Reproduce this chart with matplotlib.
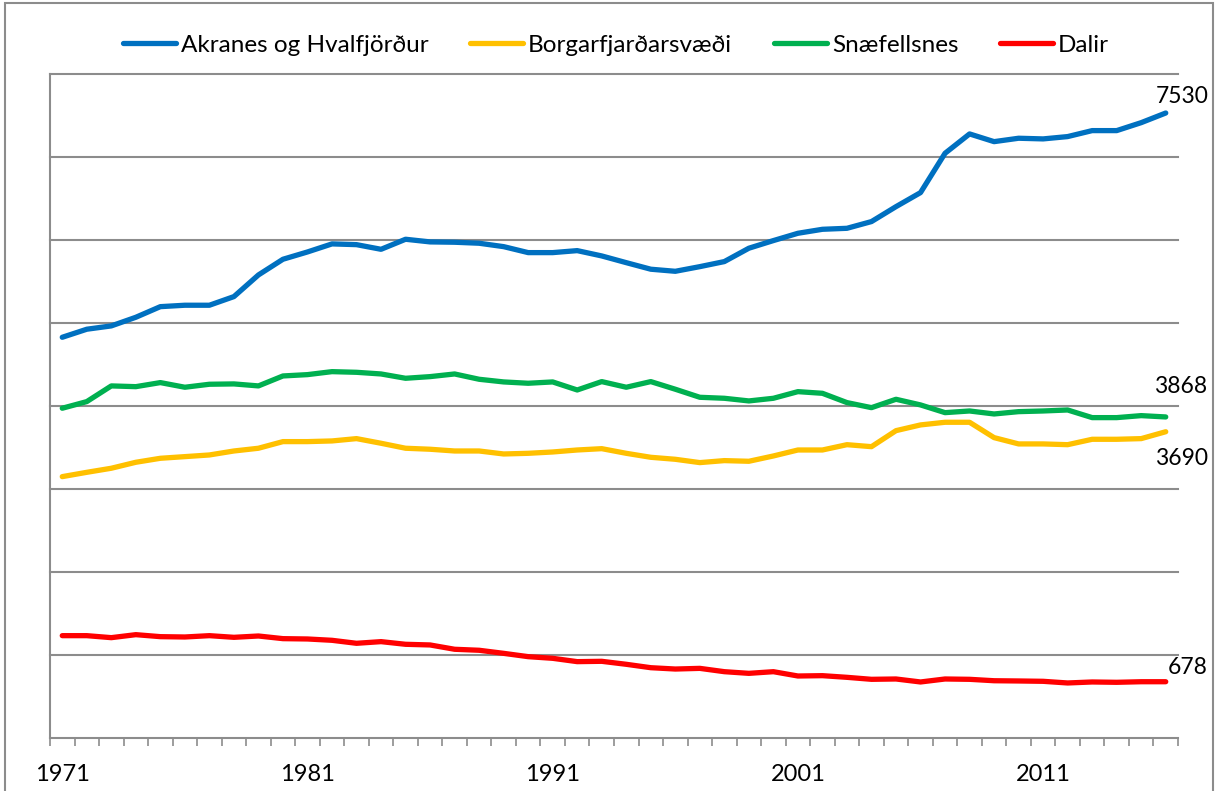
import numpy as np
import matplotlib
matplotlib.use('Agg')
import matplotlib.pyplot as plt
from matplotlib.patches import Rectangle

plt.rcParams['font.family'] = ['Lato', 'DejaVu Sans']

years = np.arange(1971, 2017)
akranes = [4828, 4925, 4965, 5069, 5197, 5214, 5214, 5318, 5579, 5768,
           5856, 5953, 5944, 5888, 6009, 5977, 5973, 5961, 5920, 5848,
           5848, 5872, 5808, 5727, 5648, 5623, 5679, 5740, 5901, 5993,
           6081, 6129, 6141, 6222, 6402, 6571, 7045, 7278, 7185, 7226,
           7218, 7246, 7318, 7318, 7414, 7530]
borgarfj = [3149, 3201, 3250, 3322, 3370, 3390, 3410, 3458, 3491, 3571,
            3571, 3579, 3607, 3551, 3491, 3479, 3458, 3458, 3422, 3430,
            3446, 3470, 3486, 3430, 3382, 3358, 3318, 3342, 3334, 3398,
            3470, 3470, 3534, 3510, 3703, 3772, 3804, 3804, 3619, 3543,
            3543, 3534, 3599, 3599, 3607, 3690]
snaefellsnes = [3973, 4053, 4242, 4233, 4282, 4226, 4262, 4266, 4242, 4362,
                4378, 4414, 4406, 4386, 4334, 4354, 4386, 4322, 4290, 4274,
                4290, 4193, 4294, 4226, 4294, 4202, 4105, 4093, 4061, 4093,
                4173, 4153, 4041, 3980, 4081, 4013, 3920, 3940, 3904, 3932,
                3940, 3952, 3860, 3860, 3884, 3868]
dalir = [1233, 1233, 1209, 1245, 1221, 1217, 1233, 1213, 1229, 1197,
         1193, 1177, 1141, 1161, 1129, 1121, 1069, 1057, 1020, 980,
         960, 920, 924, 888, 847, 831, 839, 799, 779, 799,
         747, 751, 731, 707, 711, 675, 711, 707, 690, 687,
         683, 663, 675, 671, 678, 678]

names = ['Akranes og Hvalfjörður', 'Borgarfjarðarsvæði', 'Snæfellsnes', 'Dalir']
colors = ['#0070C0', '#FFC000', '#00B050', '#FF0000']
series = [akranes, borgarfj, snaefellsnes, dalir]
# offsets (points) for the end value labels
offsets = [(11.5, 12), (11, -19), (11, 22), (16, 10)]

fig = plt.figure(figsize=(12.17, 7.91), dpi=100)
ax = fig.add_axes([50 / 1217, 1 - 738 / 791, 1128 / 1217, 664 / 791])

x = np.arange(len(years))
for s, name, c in zip(series, names, colors):
    ax.plot(x, s, color=c, lw=3.8, label=name, solid_capstyle='round',
            solid_joinstyle='round', zorder=3)

for s, c, off in zip(series, colors, offsets):
    ax.annotate(str(s[-1]), (x[-1], s[-1]), xytext=off, textcoords='offset points',
                ha='center', va='center', fontsize=16.5, color='black')

ax.set_xlim(-0.5, len(years) - 0.5)
ax.set_ylim(0, 8000)
for v in range(1000, 8001, 1000):
    ax.axhline(v, color='#8c8c8c', lw=1.5, zorder=1, clip_on=False)

ax.set_xticks(np.arange(-0.5, len(years), 1))
ax.set_xticklabels([])
ax.tick_params(axis='x', which='major', length=6, width=1.2, color='#8c8c8c', direction='out')
lab_pos = x[::10]
ax.set_xticks(lab_pos, minor=True)
ax.set_xticklabels([str(years[i]) for i in lab_pos], minor=True, fontsize=17)
ax.tick_params(axis='x', which='minor', length=0, pad=19)
ax.set_yticks([])

for side in ['top', 'right']:
    ax.spines[side].set_visible(False)
for side in ['left', 'bottom']:
    ax.spines[side].set_color('#8c8c8c')
    ax.spines[side].set_linewidth(1.5)

fig.legend(loc='center', bbox_to_anchor=(0.506, 0.943), ncol=4, frameon=False,
           fontsize=17.5, handlelength=2.2, handletextpad=0.2, columnspacing=1.7)

fig.patches.append(Rectangle((5 / 1217, -0.01), 1208 / 1217, 1.01 - 3 / 791,
                             transform=fig.transFigure, fill=False,
                             edgecolor='#8c8c8c', lw=1.5))

fig.savefig('out.png', dpi=100)
